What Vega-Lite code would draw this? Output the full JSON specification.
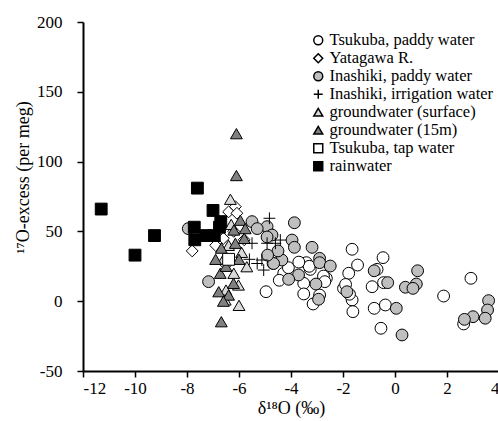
{
  "$schema": "https://vega.github.io/schema/vega-lite/v6.json",
  "autosize": "none",
  "padding": {"left": 83, "top": 22, "right": 0, "bottom": 50},
  "width": 416,
  "height": 349,
  "background": "white",
  "config": {"view": {"stroke": null}, "font": "Liberation Serif, Times New Roman, serif"},
  "data": {"values": [
    {"type": "Tsukuba, paddy water", "d18O": -1.65, "ex": 37.2},
    {"type": "Tsukuba, paddy water", "d18O": -1.44, "ex": 25.9},
    {"type": "Tsukuba, paddy water", "d18O": -0.46, "ex": 31.2},
    {"type": "Tsukuba, paddy water", "d18O": -3.41, "ex": 27.6},
    {"type": "Tsukuba, paddy water", "d18O": -3.26, "ex": 22.8},
    {"type": "Tsukuba, paddy water", "d18O": -4.28, "ex": 20},
    {"type": "Tsukuba, paddy water", "d18O": -1.78, "ex": 20},
    {"type": "Tsukuba, paddy water", "d18O": -2.64, "ex": 16.4},
    {"type": "Tsukuba, paddy water", "d18O": -3.51, "ex": 12.8},
    {"type": "Tsukuba, paddy water", "d18O": -1.98, "ex": 9.2},
    {"type": "Tsukuba, paddy water", "d18O": -2.9, "ex": 4.4},
    {"type": "Tsukuba, paddy water", "d18O": -3.51, "ex": 5.2},
    {"type": "Tsukuba, paddy water", "d18O": -3.15, "ex": -2},
    {"type": "Tsukuba, paddy water", "d18O": -1.65, "ex": 0.9},
    {"type": "Tsukuba, paddy water", "d18O": -1.62, "ex": -7.5},
    {"type": "Tsukuba, paddy water", "d18O": -0.88, "ex": 10.4},
    {"type": "Tsukuba, paddy water", "d18O": -0.69, "ex": 22.8},
    {"type": "Tsukuba, paddy water", "d18O": -0.44, "ex": 13.3},
    {"type": "Tsukuba, paddy water", "d18O": 1.87, "ex": 3.7},
    {"type": "Tsukuba, paddy water", "d18O": 2.92, "ex": 16.4},
    {"type": "Tsukuba, paddy water", "d18O": -0.8, "ex": -5.1},
    {"type": "Tsukuba, paddy water", "d18O": -0.37, "ex": -2.7},
    {"type": "Tsukuba, paddy water", "d18O": -0.54, "ex": -19.4},
    {"type": "Tsukuba, paddy water", "d18O": 2.64, "ex": -16.3},
    {"type": "Tsukuba, paddy water", "d18O": -4.96, "ex": 6.8},
    {"type": "Tsukuba, paddy water", "d18O": -3.3, "ex": 25},
    {"type": "Tsukuba, paddy water", "d18O": -2.75, "ex": 18},
    {"type": "Tsukuba, paddy water", "d18O": -2.7, "ex": 14},
    {"type": "Tsukuba, paddy water", "d18O": -1.9, "ex": 12},
    {"type": "Tsukuba, paddy water", "d18O": -1.75, "ex": 5},
    {"type": "Tsukuba, paddy water", "d18O": -4.1, "ex": 24},
    {"type": "Tsukuba, paddy water", "d18O": -3.7, "ex": 28},
    {"type": "Tsukuba, paddy water", "d18O": -4.45, "ex": 15},
    {"type": "Yatagawa R.", "d18O": -7.8, "ex": 36},
    {"type": "Yatagawa R.", "d18O": -6.4, "ex": 64},
    {"type": "Yatagawa R.", "d18O": -6.14, "ex": 67.7},
    {"type": "Yatagawa R.", "d18O": -6.08, "ex": 63},
    {"type": "Yatagawa R.", "d18O": -6.6, "ex": 45},
    {"type": "Yatagawa R.", "d18O": -6.5, "ex": 26},
    {"type": "Yatagawa R.", "d18O": -6.2, "ex": 50},
    {"type": "Yatagawa R.", "d18O": -5.8, "ex": 44},
    {"type": "Yatagawa R.", "d18O": -6.9, "ex": 40},
    {"type": "Inashiki, paddy water", "d18O": -3.87, "ex": 56.2},
    {"type": "Inashiki, paddy water", "d18O": -3.96, "ex": 43.8},
    {"type": "Inashiki, paddy water", "d18O": -3.87, "ex": 38.6},
    {"type": "Inashiki, paddy water", "d18O": -3.19, "ex": 38.6},
    {"type": "Inashiki, paddy water", "d18O": -2.9, "ex": 30.7},
    {"type": "Inashiki, paddy water", "d18O": -2.9, "ex": 27.6},
    {"type": "Inashiki, paddy water", "d18O": -2.49, "ex": 25.2},
    {"type": "Inashiki, paddy water", "d18O": -3.71, "ex": 18.8},
    {"type": "Inashiki, paddy water", "d18O": -4.09, "ex": 15.7},
    {"type": "Inashiki, paddy water", "d18O": -4.35, "ex": 29.5},
    {"type": "Inashiki, paddy water", "d18O": -4.69, "ex": 27.1},
    {"type": "Inashiki, paddy water", "d18O": -3.04, "ex": 12.3},
    {"type": "Inashiki, paddy water", "d18O": -1.85, "ex": 6.8},
    {"type": "Inashiki, paddy water", "d18O": -2.94, "ex": 1.4},
    {"type": "Inashiki, paddy water", "d18O": -0.8, "ex": 21.8},
    {"type": "Inashiki, paddy water", "d18O": -0.28, "ex": 13.3},
    {"type": "Inashiki, paddy water", "d18O": 0.87, "ex": 21.8},
    {"type": "Inashiki, paddy water", "d18O": 0.82, "ex": 12.3},
    {"type": "Inashiki, paddy water", "d18O": 0.4, "ex": 10},
    {"type": "Inashiki, paddy water", "d18O": 0.69, "ex": 9.2},
    {"type": "Inashiki, paddy water", "d18O": 0.05, "ex": -5.1},
    {"type": "Inashiki, paddy water", "d18O": 0.27, "ex": -24.2},
    {"type": "Inashiki, paddy water", "d18O": 3.6, "ex": 0.4},
    {"type": "Inashiki, paddy water", "d18O": 3.56, "ex": -6.3},
    {"type": "Inashiki, paddy water", "d18O": 3.0, "ex": -11.1},
    {"type": "Inashiki, paddy water", "d18O": 3.47, "ex": -12.2},
    {"type": "Inashiki, paddy water", "d18O": 2.67, "ex": -13},
    {"type": "Inashiki, paddy water", "d18O": -7.95, "ex": 52},
    {"type": "Inashiki, paddy water", "d18O": -5.5, "ex": 57},
    {"type": "Inashiki, paddy water", "d18O": -4.92, "ex": 53.4},
    {"type": "Inashiki, paddy water", "d18O": -4.73, "ex": 47.4},
    {"type": "Inashiki, paddy water", "d18O": -4.67, "ex": 27},
    {"type": "Inashiki, paddy water", "d18O": -4.92, "ex": 46},
    {"type": "Inashiki, paddy water", "d18O": -7.17, "ex": 14},
    {"type": "Inashiki, paddy water", "d18O": -4.5, "ex": 36},
    {"type": "Inashiki, paddy water", "d18O": -5.3, "ex": 52},
    {"type": "Inashiki, paddy water", "d18O": -4.9, "ex": 33},
    {"type": "Inashiki, irrigation water", "d18O": -4.41, "ex": 43.8},
    {"type": "Inashiki, irrigation water", "d18O": -5.5, "ex": 41.5},
    {"type": "Inashiki, irrigation water", "d18O": -5.12, "ex": 29.5},
    {"type": "Inashiki, irrigation water", "d18O": -5.05, "ex": 22.3},
    {"type": "Inashiki, irrigation water", "d18O": -4.6, "ex": 41.5},
    {"type": "Inashiki, irrigation water", "d18O": -4.92, "ex": 41.5},
    {"type": "Inashiki, irrigation water", "d18O": -4.83, "ex": 59.4},
    {"type": "Inashiki, irrigation water", "d18O": -5.3, "ex": 27},
    {"type": "Inashiki, irrigation water", "d18O": -5.6, "ex": 30},
    {"type": "groundwater (surface)", "d18O": -6.33, "ex": 73},
    {"type": "groundwater (surface)", "d18O": -6.53, "ex": 0.9},
    {"type": "groundwater (surface)", "d18O": -5.7, "ex": 24.7},
    {"type": "groundwater (surface)", "d18O": -6.02, "ex": 11.6},
    {"type": "groundwater (surface)", "d18O": -6.4, "ex": 40},
    {"type": "groundwater (surface)", "d18O": -6.6, "ex": 30},
    {"type": "groundwater (surface)", "d18O": -6.2, "ex": 20},
    {"type": "groundwater (surface)", "d18O": -5.9, "ex": 35},
    {"type": "groundwater (surface)", "d18O": -6.3, "ex": 55},
    {"type": "groundwater (surface)", "d18O": -6.0, "ex": -3},
    {"type": "groundwater (surface)", "d18O": -6.5, "ex": 8},
    {"type": "groundwater (15m)", "d18O": -6.1, "ex": 120},
    {"type": "groundwater (15m)", "d18O": -6.1, "ex": 90},
    {"type": "groundwater (15m)", "d18O": -6.68, "ex": -14.7},
    {"type": "groundwater (15m)", "d18O": -6.68, "ex": 38},
    {"type": "groundwater (15m)", "d18O": -6.14, "ex": 41.5},
    {"type": "groundwater (15m)", "d18O": -6.72, "ex": 20},
    {"type": "groundwater (15m)", "d18O": -6.78, "ex": 6.8},
    {"type": "groundwater (15m)", "d18O": -6.21, "ex": 12.8},
    {"type": "groundwater (15m)", "d18O": -6.4, "ex": 4.4},
    {"type": "groundwater (15m)", "d18O": -5.95, "ex": 58},
    {"type": "groundwater (15m)", "d18O": -5.76, "ex": 52},
    {"type": "groundwater (15m)", "d18O": -6.2, "ex": 51},
    {"type": "groundwater (15m)", "d18O": -6.5, "ex": 25},
    {"type": "groundwater (15m)", "d18O": -6.9, "ex": 30},
    {"type": "groundwater (15m)", "d18O": -6.0, "ex": 30},
    {"type": "groundwater (15m)", "d18O": -5.8, "ex": 45},
    {"type": "groundwater (15m)", "d18O": -6.6, "ex": 0},
    {"type": "Tsukuba, tap water", "d18O": -6.4, "ex": 30},
    {"type": "rainwater", "d18O": -11.3, "ex": 66},
    {"type": "rainwater", "d18O": -10.0, "ex": 33},
    {"type": "rainwater", "d18O": -9.25, "ex": 47},
    {"type": "rainwater", "d18O": -7.6, "ex": 81},
    {"type": "rainwater", "d18O": -7.72, "ex": 53},
    {"type": "rainwater", "d18O": -7.7, "ex": 44},
    {"type": "rainwater", "d18O": -7.3, "ex": 47},
    {"type": "rainwater", "d18O": -7.0, "ex": 65},
    {"type": "rainwater", "d18O": -6.95, "ex": 47},
    {"type": "rainwater", "d18O": -6.7, "ex": 57},
    {"type": "rainwater", "d18O": -6.75, "ex": 53}
  ]},
  "mark": {"type": "point", "filled": true, "stroke": "black", "strokeWidth": 1, "opacity": 1, "size": 140},
  "encoding": {
    "x": {"field": "d18O", "type": "quantitative",
      "scale": {"domain": [-12, 4], "nice": false, "zero": false},
      "axis": {"values": [-12, -10, -8, -6, -4, -2, 0, 2, 4], "title": "δ¹⁸O (‰)", "grid": false,
        "labelExpr": "replace(datum.label, '−', '-')",
        "domainColor": "black", "domainWidth": 2, "tickColor": "black", "tickWidth": 1.5, "tickSize": 6,
        "labelFont": "Liberation Serif, Times New Roman, serif", "labelFontSize": 17, "labelColor": "black", "labelPadding": 3,
        "titleFont": "Liberation Serif, Times New Roman, serif", "titleFontSize": 18, "titleFontWeight": "normal", "titleColor": "black", "titlePadding": 3}},
    "y": {"field": "ex", "type": "quantitative",
      "scale": {"domain": [-50, 200], "nice": false, "zero": false},
      "axis": {"values": [-50, 0, 50, 100, 150, 200], "title": "¹⁷O-excess (per meg)", "grid": false,
        "labelExpr": "replace(datum.label, '−', '-')",
        "domainColor": "black", "domainWidth": 2, "tickColor": "black", "tickWidth": 1.5, "tickSize": 6,
        "labelFont": "Liberation Serif, Times New Roman, serif", "labelFontSize": 17, "labelColor": "black", "labelPadding": 15,
        "titleFont": "Liberation Serif, Times New Roman, serif", "titleFontSize": 18, "titleFontWeight": "normal", "titleColor": "black",
        "titleX": -51, "titleY": 155}},
    "shape": {"field": "type", "type": "nominal",
      "scale": {"domain": ["Tsukuba, paddy water", "Yatagawa R.", "Inashiki, paddy water", "Inashiki, irrigation water", "groundwater (surface)", "groundwater (15m)", "Tsukuba, tap water", "rainwater"],
        "range": ["circle", "diamond", "circle", "M-1,0H1M0,-1V1", "triangle-up", "triangle-up", "square", "square"]},
      "legend": {"orient": "none", "legendX": 227, "legendY": 10, "title": null, "padding": 0,
        "labelFont": "Liberation Serif, Times New Roman, serif", "labelFontSize": 16.5, "labelColor": "black", "labelOffset": 3, "labelLimit": 400,
        "symbolSize": 80, "rowPadding": 1,
        "encode": {"symbols": {"update": {"stroke": {"value": "black"}, "strokeWidth": {"value": 1}, "opacity": {"value": 1}}}}}},
    "fill": {"field": "type", "type": "nominal",
      "scale": {"domain": ["Tsukuba, paddy water", "Yatagawa R.", "Inashiki, paddy water", "Inashiki, irrigation water", "groundwater (surface)", "groundwater (15m)", "Tsukuba, tap water", "rainwater"],
        "range": ["white", "white", "#bfbfbf", "transparent", "#d9d9d9", "#808080", "white", "black"]},
      "legend": {"orient": "none", "legendX": 227, "legendY": 10, "title": null, "padding": 0,
        "labelFont": "Liberation Serif, Times New Roman, serif", "labelFontSize": 16.5, "labelColor": "black", "labelOffset": 3, "labelLimit": 400,
        "symbolSize": 80, "rowPadding": 1,
        "encode": {"symbols": {"update": {"stroke": {"value": "black"}, "strokeWidth": {"value": 1}, "opacity": {"value": 1}}}}}}
  }
}
